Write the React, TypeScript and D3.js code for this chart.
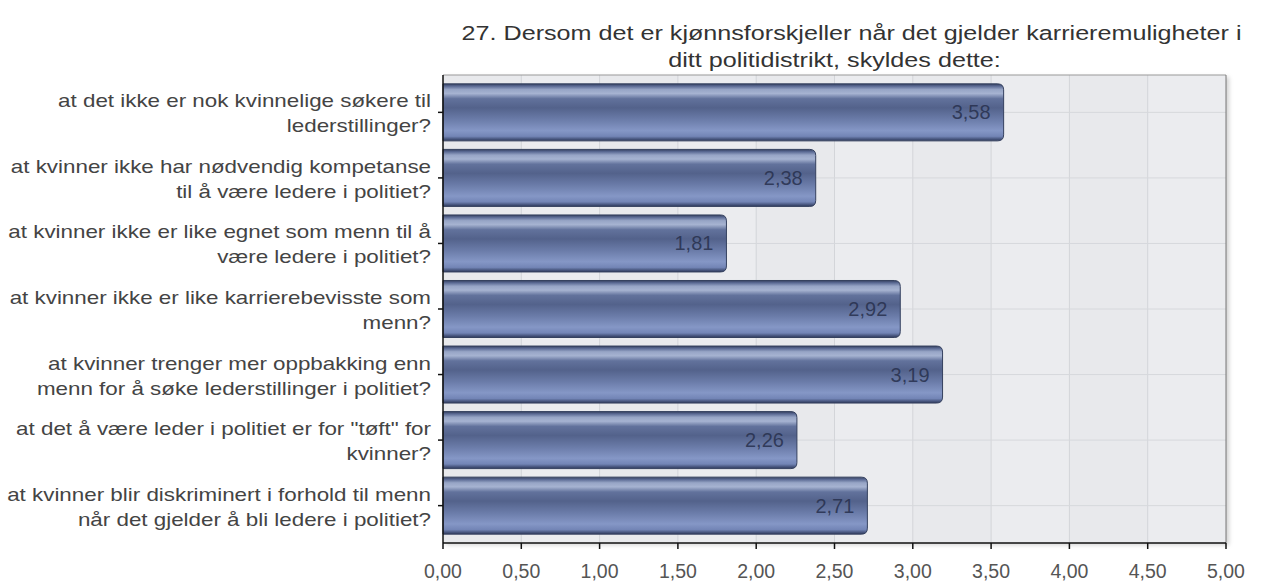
import * as d3 from "d3";

const title = [
  "27. Dersom det er kjønnsforskjeller når det gjelder karrieremuligheter i",
  "ditt politidistrikt, skyldes dette:",
];

const categories = [
  ["at det ikke er nok kvinnelige søkere til", "lederstillinger?"],
  ["at kvinner ikke har nødvendig kompetanse", "til å være ledere i politiet?"],
  ["at kvinner ikke er like egnet som menn til å", "være ledere i politiet?"],
  ["at kvinner ikke er like karrierebevisste som", "menn?"],
  ["at kvinner trenger mer oppbakking enn", "menn for å søke lederstillinger i politiet?"],
  ["at det å være leder i politiet er for \"tøft\" for", "kvinner?"],
  ["at kvinner blir diskriminert i forhold til menn", "når det gjelder å bli ledere i politiet?"],
];

const values = [3.58, 2.38, 1.81, 2.92, 3.19, 2.26, 2.71];

const xTicks = [0, 0.5, 1, 1.5, 2, 2.5, 3, 3.5, 4, 4.5, 5];

const W = 1262;
const H = 583;
const plot = { left: 443, right: 1226, top: 75, bottom: 543 };

const fmt = (v: number) => v.toFixed(2).replace(".", ",");
const font = "'Liberation Sans', Arial, sans-serif";

export default function App() {
  const ids = categories.map((_, i) => String(i));
  const x = d3.scaleLinear().domain([0, 5]).range([plot.left, plot.right]);
  const y = d3
    .scaleBand()
    .domain(ids)
    .range([plot.top, plot.bottom])
    .paddingInner(0.13)
    .paddingOuter(0.135);
  const bw = y.bandwidth();
  const center = (i: number) => (y(String(i)) ?? 0) + bw / 2;

  // bar with rounded right end only
  const barPath = (v: number, i: number) => {
    const x0 = x(0);
    const x1 = x(v);
    const y0 = y(String(i)) ?? 0;
    const y1 = y0 + bw;
    const r = 6;
    const p = d3.path();
    p.moveTo(x0, y0);
    p.lineTo(x1 - r, y0);
    p.quadraticCurveTo(x1, y0, x1, y0 + r);
    p.lineTo(x1, y1 - r);
    p.quadraticCurveTo(x1, y1, x1 - r, y1);
    p.lineTo(x0, y1);
    p.closePath();
    return p.toString();
  };

  const labelScale = 1.21;
  const titleScale = 1.29;

  return (
    <div style={{ position: "fixed", left: 0, top: 0, width: W, height: H, background: "#fff" }}>
      <svg width={W} height={H} style={{ display: "block" }} fontFamily={font}>
        <defs>
          <linearGradient id="barGrad" x1="0" y1="0" x2="0" y2="1">
            <stop offset="0%" stopColor="#34405f" />
            <stop offset="4%" stopColor="#5a6993" />
            <stop offset="10%" stopColor="#97a5c6" />
            <stop offset="17%" stopColor="#a6b3d1" />
            <stop offset="26%" stopColor="#62729c" />
            <stop offset="42%" stopColor="#53628b" />
            <stop offset="62%" stopColor="#6a7ba8" />
            <stop offset="82%" stopColor="#8597c6" />
            <stop offset="92%" stopColor="#7385b6" />
            <stop offset="97%" stopColor="#46547c" />
            <stop offset="100%" stopColor="#2f3a5c" />
          </linearGradient>
          <linearGradient id="sepGrad" x1="0" y1="0" x2="1" y2="0">
            <stop offset="0%" stopColor="#bbb" stopOpacity="0.3" />
            <stop offset="55%" stopColor="#777" />
            <stop offset="100%" stopColor="#bbb" stopOpacity="0.4" />
          </linearGradient>
          <filter id="shadow" x="-5%" y="-5%" width="110%" height="110%">
            <feDropShadow dx="3" dy="2" stdDeviation="2" floodColor="#000" floodOpacity="0.18" />
          </filter>
        </defs>

        {/* plot background */}
        <rect
          x={plot.left}
          y={plot.top}
          width={plot.right - plot.left}
          height={plot.bottom - plot.top}
          fill="#e8e9ec"
          filter="url(#shadow)"
        />
        {xTicks.slice(0, -1).map((t, i) =>
          i % 2 === 1 ? (
            <rect
              key={"stripe" + i}
              x={x(t)}
              y={plot.top}
              width={x(xTicks[i + 1]) - x(t)}
              height={plot.bottom - plot.top}
              fill="#ebecef"
            />
          ) : null
        )}
        {xTicks.slice(1, -1).map((t) => (
          <line key={"vg" + t} x1={x(t)} x2={x(t)} y1={plot.top} y2={plot.bottom} stroke="#d3d5d9" />
        ))}
        {values.map((_, i) => (
          <line
            key={"hg" + i}
            x1={plot.left}
            x2={plot.right}
            y1={center(i)}
            y2={center(i)}
            stroke="#d6d8dc"
          />
        ))}
        <line x1={plot.left} x2={plot.right} y1={plot.top} y2={plot.top} stroke="#9a9a9a" />
        <line x1={plot.right} x2={plot.right} y1={plot.top} y2={plot.bottom} stroke="#777" />

        {/* bars */}
        {values.map((v, i) => (
          <g key={"bar" + i}>
            <path d={barPath(v, i)} fill="url(#barGrad)" stroke="#35415f" strokeWidth={1} />
            <text
              x={x(v) - 13}
              y={center(i) + 7}
              textAnchor="end"
              fontSize={20}
              fill="#27304d"
              fillOpacity={0.85}
            >
              {fmt(v)}
            </text>
          </g>
        ))}

        {/* axes */}
        <line x1={plot.left} x2={plot.left} y1={plot.top} y2={plot.bottom} stroke="#111" strokeWidth={1.5} />
        <line x1={plot.left} x2={plot.right} y1={plot.bottom} y2={plot.bottom} stroke="#111" strokeWidth={1.5} />
        {values.map((_, i) => (
          <line
            key={"yt" + i}
            x1={plot.left - 5}
            x2={plot.left}
            y1={center(i)}
            y2={center(i)}
            stroke="#111"
            strokeWidth={1.5}
          />
        ))}
        {xTicks.map((t) => (
          <g key={"xt" + t}>
            <line x1={x(t)} x2={x(t)} y1={plot.bottom} y2={plot.bottom + 6} stroke="#111" strokeWidth={1.5} />
            <text x={x(t)} y={578} textAnchor="middle" fontSize={19.5} fill="#555">
              {fmt(t)}
            </text>
          </g>
        ))}

        {/* category labels */}
        {categories.map((lines, i) => (
          <g key={"lab" + i}>
            {lines.map((ln, j) => (
              <text
                key={j}
                transform={`translate(431,${center(i) - 5 + j * 25}) scale(${labelScale},1)`}
                textAnchor="end"
                fontSize={18.5}
                fill="#444"
              >
                {ln}
              </text>
            ))}
          </g>
        ))}
        {categories.slice(0, -1).map((_, i) => (
          <line
            key={"sep" + i}
            x1={10}
            x2={428}
            y1={(center(i) + center(i + 1)) / 2 + 2}
            y2={(center(i) + center(i + 1)) / 2 + 2}
            stroke="url(#sepGrad)"
            strokeWidth={1}
          />
        ))}

        {/* title */}
        {title.map((t, j) => (
          <text
            key={"title" + j}
            transform={`translate(${(plot.left + plot.right) / 2 + 17 * (1 - j)},${40 + j * 27}) scale(${titleScale},1)`}
            textAnchor="middle"
            fontSize={19.5}
            fill="#333"
          >
            {t}
          </text>
        ))}
      </svg>
    </div>
  );
}
